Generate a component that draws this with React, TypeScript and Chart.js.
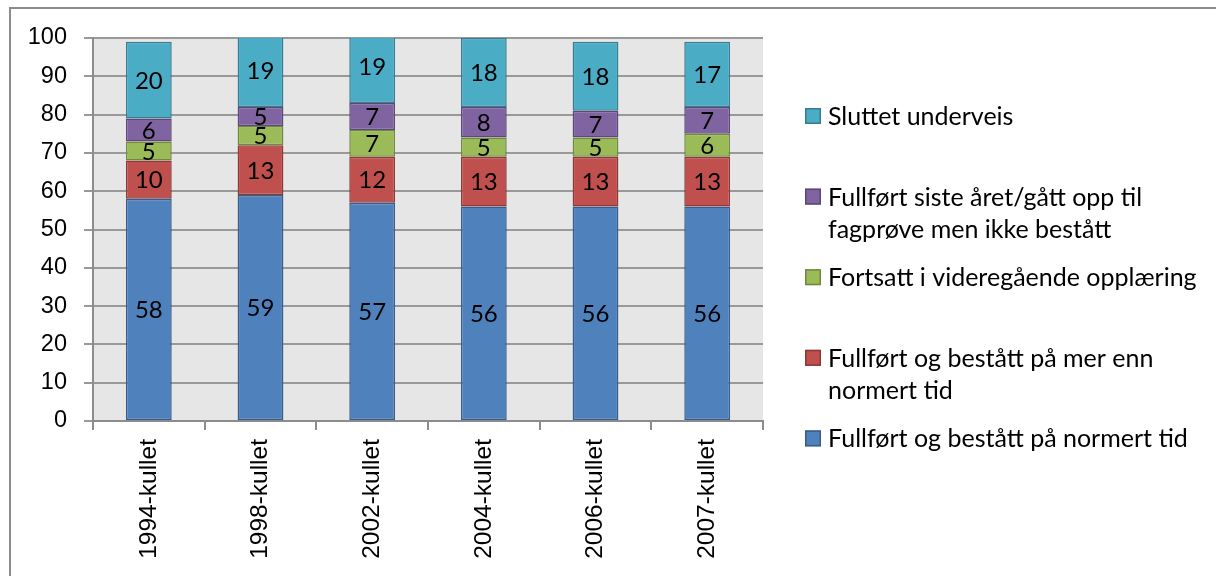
import React, { useEffect, useRef } from "react";
import { Chart, registerables } from "chart.js";

Chart.register(...registerables);

const categories = ["1994-kullet", "1998-kullet", "2002-kullet", "2004-kullet", "2006-kullet", "2007-kullet"];

const normertTid = [58, 59, 57, 56, 56, 56];
const merEnnNormert = [10, 13, 12, 13, 13, 13];
const fortsatt = [5, 5, 7, 5, 5, 6];
const ikkeBestatt = [6, 5, 7, 8, 7, 7];
const sluttet = [20, 19, 19, 18, 18, 17];

const seriesLabels = [
  ["Fullført og bestått på normert tid"],
  ["Fullført og bestått på mer enn", "normert tid"],
  ["Fortsatt i videregående opplæring"],
  ["Fullført siste året/gått opp til", "fagprøve men ikke bestått"],
  ["Sluttet underveis"],
];
const seriesValues = [normertTid, merEnnNormert, fortsatt, ikkeBestatt, sluttet];
const fillColors = ["#4F81BD", "#C0504D", "#9BBB59", "#8064A2", "#4BACC6"];
const borderColors = ["#385D8A", "#8C3836", "#71893F", "#5C4776", "#357D91"];

const yMin = 0;
const yMax = 100;
const yStep = 10;

const CAL = "Lato, 'Open Sans', sans-serif";
const ARIAL = "'Liberation Sans', Arial, sans-serif";

const decorPlugin = {
  id: "decor",
  beforeDraw(chart: any) {
    const { ctx, chartArea: a, width, height } = chart;
    ctx.save();
    ctx.fillStyle = "#ffffff";
    ctx.fillRect(0, 0, width, height);
    ctx.strokeStyle = "#8c8c8c";
    ctx.lineWidth = 2;
    ctx.beginPath();
    ctx.moveTo(10, height + 10);
    ctx.lineTo(10, 8);
    ctx.lineTo(width + 10, 8);
    ctx.stroke();
    ctx.fillStyle = "#E6E6E6";
    ctx.fillRect(a.left, a.top, a.right - a.left, a.bottom - a.top);
    ctx.restore();
  },
  afterDatasetsDraw(chart: any) {
    const { ctx } = chart;
    ctx.save();
    ctx.font = `24px ${CAL}`;
    ctx.fillStyle = "#000000";
    ctx.textAlign = "center";
    ctx.textBaseline = "middle";
    chart.data.datasets.forEach((ds: any, i: number) => {
      const meta = chart.getDatasetMeta(i);
      meta.data.forEach((el: any, j: number) => {
        const v = ds.data[j];
        const y = (el.y + el.base) / 2;
        ctx.fillText(String(v), el.x, y + 1);
      });
    });
    ctx.restore();
  },
  afterDraw(chart: any) {
    const { ctx } = chart;
    const ds = chart.data.datasets;
    const n = ds.length;
    const x0 = 805;
    const sw = 16;
    const textX = 828;
    const firstY = 116;
    const slot = 80.6;
    const lineH = 32;
    ctx.save();
    ctx.font = `25px ${CAL}`;
    ctx.textAlign = "left";
    ctx.textBaseline = "middle";
    for (let k = 0; k < n; k++) {
      const i = n - 1 - k;
      const d = ds[i];
      const cy = firstY + slot * k;
      ctx.fillStyle = d.backgroundColor;
      ctx.fillRect(x0, cy - sw / 2, sw, sw);
      ctx.strokeStyle = d.borderColor;
      ctx.lineWidth = 1.5;
      ctx.strokeRect(x0 + 0.75, cy - sw / 2 + 0.75, sw - 1.5, sw - 1.5);
      ctx.fillStyle = "#000000";
      d.legendLines.forEach((line: string, j: number) => {
        ctx.fillText(line, textX, cy + lineH * j + 1);
      });
    }
    ctx.restore();
  },
};

export default function App() {
  const ref = useRef<HTMLCanvasElement | null>(null);
  useEffect(() => {
    if (!ref.current) return;
    const chart = new Chart(ref.current, {
      type: "bar",
      data: {
        labels: categories,
        datasets: seriesValues.map((vals, i) => ({
          label: seriesLabels[i].join(" "),
          legendLines: seriesLabels[i],
          data: vals,
          backgroundColor: fillColors[i],
          borderColor: borderColors[i],
          borderWidth: 1.5,
          borderSkipped: false,
          categoryPercentage: 1,
          barPercentage: 0.41,
        })) as any,
      },
      options: {
        responsive: false,
        animation: false,
        layout: { padding: { left: 0, top: 38, right: 453, bottom: 0 } },
        plugins: {
          legend: { display: false },
          tooltip: { enabled: false },
        },
        scales: {
          x: {
            stacked: true,
            afterFit: (s: any) => {
              s.height = 155;
            },
            grid: {
              drawOnChartArea: false,
              drawTicks: true,
              tickLength: 9,
              color: "#8c8c8c",
              lineWidth: 2,
              offset: true,
            },
            border: { display: true, color: "#8c8c8c", width: 2 },
            ticks: {
              autoSkip: false,
              minRotation: 90,
              maxRotation: 90,
              padding: 9,
              color: "#000000",
              font: { family: ARIAL, size: 24.5 },
            },
          },
          y: {
            stacked: true,
            min: yMin,
            max: yMax,
            afterFit: (s: any) => {
              s.width = 93;
            },
            grid: {
              color: "#999999",
              lineWidth: 2,
              tickLength: 9,
            },
            border: { display: true, color: "#8c8c8c", width: 2 },
            ticks: {
              stepSize: yStep,
              padding: 17,
              color: "#000000",
              font: { family: ARIAL, size: 23.5 },
            },
          },
        },
      },
      plugins: [decorPlugin],
    });
    return () => chart.destroy();
  }, []);
  return (
    <div style={{ position: "fixed", left: 0, top: 0, width: 1216, height: 576 }}>
      <canvas ref={ref} width={1216} height={576} style={{ display: "block" }} />
    </div>
  );
}
